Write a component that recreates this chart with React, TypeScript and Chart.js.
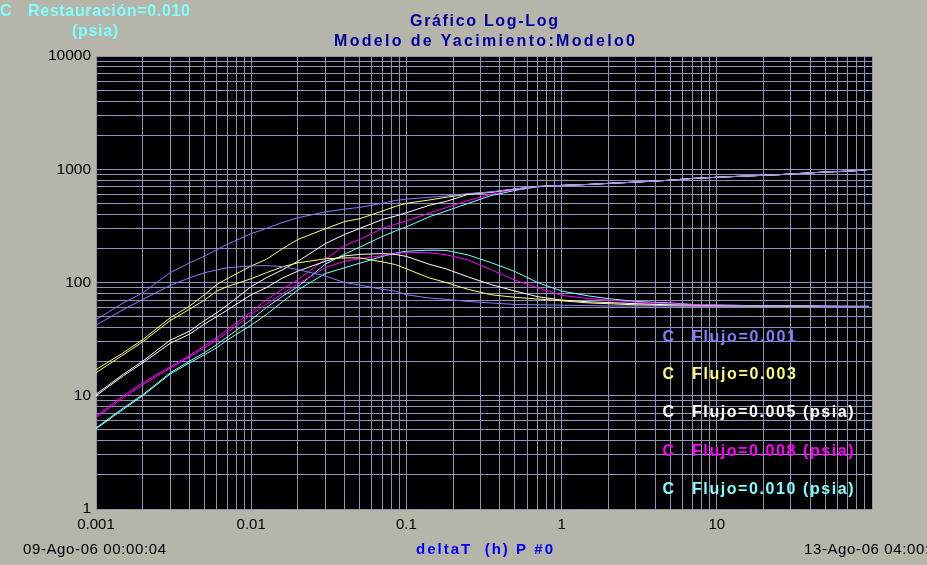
import React, { useEffect, useRef } from 'react';
import { Chart, registerables } from 'chart.js';

Chart.register(...registerables);

// ---- data ----
const deltaT = [0.001, 0.0015, 0.002, 0.003, 0.004, 0.005, 0.006, 0.007, 0.01, 0.0125, 0.016, 0.02, 0.03, 0.04, 0.05, 0.07, 0.085, 0.1, 0.14, 0.18, 0.25, 0.35, 0.5, 0.7, 1, 1.5, 2, 3, 5, 7, 12, 25, 35, 50, 75, 95];

const flujo001DeltaP = [47, 66, 81, 122, 149, 171, 195, 217, 270, 300, 340, 373, 420, 445, 460, 500, 530, 545, 565, 580, 610, 630, 670, 705, 720, 735, 750, 770, 800, 830, 859, 895, 920, 945, 965, 995];
const flujo001Deriv = [42, 57.7, 70.8, 94, 110, 122, 129, 135, 140, 141, 138, 130, 114, 100, 95, 87, 84, 78, 73, 71, 68, 66, 64, 63.5, 63, 62.5, 62, 62, 62, 62, 62, 62, 62, 61.5, 61.5, 61.5];

const flujo003DeltaP = [17, 24, 31.3, 48.7, 61.7, 78, 96, 108, 140, 160, 200, 240, 298, 345, 366, 427, 470, 500, 535, 565, 605, 630, 670, 705, 720, 735, 750, 770, 800, 830, 859, 895, 920, 945, 965, 995];
const flujo003Deriv = [16, 23, 30, 46, 58, 70, 84, 92, 108, 122, 138, 149, 162, 165, 165, 152, 144, 132, 110, 100, 87, 78, 74, 71.5, 69, 66, 65, 63.5, 62.5, 62, 62, 62, 62, 61.5, 61.5, 61.5];

const flujo005DeltaP = [10.3, 15.5, 20.2, 30.9, 37.1, 46, 54, 63, 92, 110, 130, 154, 220, 266, 300, 360, 386, 413, 480, 520, 600, 625, 665, 705, 720, 735, 750, 770, 800, 830, 859, 895, 920, 945, 965, 995];
const flujo005Deriv = [10, 15, 19.5, 29, 35, 43, 50, 57, 78, 90, 110, 126, 154, 172, 177, 180, 177, 170, 145, 132, 112, 96, 84, 75, 70, 67.5, 66.5, 65, 63.5, 63, 62, 62, 62, 61.5, 61.5, 61.5];

const flujo008DeltaP = [6.6, 10, 13, 18, 22.6, 27.5, 32.5, 38, 55, 70, 88, 106, 160, 212, 240, 300, 326, 350, 410, 457, 530, 600, 660, 700, 720, 735, 750, 770, 800, 830, 859, 895, 920, 945, 965, 995];
const flujo008Deriv = [6.4, 9.6, 12.5, 17.5, 22, 26.5, 31, 36, 52, 64, 80, 97, 135, 154, 162, 173, 180, 185, 183, 176, 158, 130, 105, 90, 77, 72, 70, 67, 65, 64, 63, 62, 62, 62, 61.5, 61.5];

const flujo010DeltaP = [5.2, 7.8, 10.2, 15.9, 20.2, 24, 28.3, 33, 47, 60, 76, 92, 145, 178, 205, 255, 285, 310, 380, 427, 500, 585, 650, 700, 720, 735, 750, 770, 800, 830, 859, 895, 920, 945, 965, 995];
const flujo010Deriv = [5.1, 7.6, 10, 15.5, 19.5, 23, 26.5, 31, 42, 52, 68, 86, 120, 135, 148, 170, 182, 189, 193, 192, 175, 150, 125, 100, 84, 76, 72, 68, 66, 64, 63, 62, 62, 62, 61.5, 61.5];

const seriesLabels = ['Flujo=0.001', 'Flujo=0.003', 'Flujo=0.005 (psia)', 'Flujo=0.008 (psia)', 'Flujo=0.010 (psia)'];
const deltaPSeries = [flujo001DeltaP, flujo003DeltaP, flujo005DeltaP, flujo008DeltaP, flujo010DeltaP];
const derivSeries = [flujo001Deriv, flujo003Deriv, flujo005Deriv, flujo008Deriv, flujo010Deriv];

const xTickLabelValues = [0.001, 0.01, 0.1, 1, 10];
const xTickLabels = ['0.001', '0.01', '0.1', '1', '10'];
const yTickLabelValues = [1, 10, 100, 1000, 10000];
const yTickLabels = ['1', '10', '100', '1000', '10000'];

const titleLine1 = 'Gráfico Log-Log';
const titleLine2 = 'Modelo de Yacimiento:Modelo0';
const restLabel = 'Restauración=0.010';
const restUnit = '(psia)';
const curvePrefix = 'C';
const xAxisTitle = 'deltaT  (h) P #0';
const startDate = '09-Ago-06 00:00:04';
const endDate = '13-Ago-06 04:00:04';

// ---- styles ----
const pageBg = '#b5b5a9';
const gridColor = '#9292b8';
const seriesColors = ['#8080ff', '#ffff80', '#ffffff', '#ff00ff', '#80ffff'];
const FONT = '"Liberation Sans", Arial, sans-serif';

function decadeTicks(minExp: number, maxExp: number) {
  const out: number[] = [];
  for (let e = minExp; e < maxExp; e++) {
    for (let m = 1; m <= 9; m++) out.push(Number((m * Math.pow(10, e)).toPrecision(6)));
  }
  out.push(Math.pow(10, maxExp));
  return out;
}

function labelFor(v: number, vals: number[], labels: string[]) {
  for (let i = 0; i < vals.length; i++) {
    if (Math.abs(Math.log10(v) - Math.log10(vals[i])) < 1e-6) return labels[i];
  }
  return '';
}

function fitText(ctx: CanvasRenderingContext2D, text: string, left: number, baseline: number, width: number, font: string, color: string) {
  ctx.save();
  ctx.font = font;
  ctx.fillStyle = color;
  ctx.textAlign = 'left';
  ctx.textBaseline = 'alphabetic';
  (ctx as any).letterSpacing = '0px';
  const natural = ctx.measureText(text).width;
  const n = Array.from(text).length;
  const sp = n > 1 ? (width - natural) / (n - 1) : 0;
  (ctx as any).letterSpacing = sp.toFixed(2) + 'px';
  ctx.fillText(text, left, baseline);
  ctx.restore();
}

const plotBgPlugin = {
  id: 'plotBg',
  beforeDraw(chart: any) {
    const { ctx, chartArea: a } = chart;
    ctx.save();
    ctx.fillStyle = pageBg;
    ctx.fillRect(0, 0, chart.width, chart.height);
    ctx.fillStyle = '#000000';
    ctx.fillRect(a.left, a.top, a.right - a.left, a.bottom - a.top);
    ctx.restore();
  },
};

const textPlugin = {
  id: 'texts',
  afterDraw(chart: any) {
    const ctx: CanvasRenderingContext2D = chart.ctx;
    const bold16 = `bold 16px ${FONT}`;
    // top-left cyan label
    fitText(ctx, curvePrefix, 0, 16, 10, bold16, '#80ffff');
    fitText(ctx, restLabel, 28, 16, 162, bold16, '#80ffff');
    fitText(ctx, restUnit, 72, 36, 46, bold16, '#80ffff');
    // titles
    fitText(ctx, titleLine1, 410, 26, 148, bold16, '#0000a0');
    fitText(ctx, titleLine2, 334, 46, 301, bold16, '#0000a0');
    // legend inside plot
    const rows = [341.5, 379, 417, 455.5, 494];
    const widths = [104, 104, 161.5, 161.5, 161.5];
    seriesLabels.forEach((lab, i) => {
      fitText(ctx, curvePrefix, 662.5, rows[i], 10.5, bold16, seriesColors[i]);
      fitText(ctx, lab, 692, rows[i], widths[i], bold16, seriesColors[i]);
    });
    // bottom texts
    fitText(ctx, startDate, 23, 554, 143, `15px ${FONT}`, '#000000');
    fitText(ctx, xAxisTitle, 416, 554, 137, `bold 15px ${FONT}`, '#0000ff');
    fitText(ctx, endDate, 804, 554, 143, `15px ${FONT}`, '#000000');
  },
};

export default function App() {
  const ref = useRef<HTMLCanvasElement>(null);

  useEffect(() => {
    const canvas = ref.current;
    if (!canvas) return;
    const datasets: any[] = [];
    seriesLabels.forEach((label, i) => {
      datasets.push({
        label: label + ' ΔP',
        data: deltaT.map((t, j) => ({ x: t, y: deltaPSeries[i][j] })),
        borderColor: seriesColors[i],
        backgroundColor: seriesColors[i],
        borderWidth: 1,
        pointRadius: 0,
        tension: 0,
        fill: false,
      });
      datasets.push({
        label: label + ' derivada',
        data: deltaT.map((t, j) => ({ x: t, y: derivSeries[i][j] })),
        borderColor: seriesColors[i],
        backgroundColor: seriesColors[i],
        borderWidth: 1,
        pointRadius: 0,
        tension: 0,
        fill: false,
      });
    });

    const chart = new Chart(canvas, {
      type: 'line',
      data: { datasets },
      options: {
        animation: false,
        responsive: false,
        devicePixelRatio: 1,
        layout: { padding: { top: 56, right: 55, bottom: 0, left: 0 } },
        plugins: {
          legend: { display: false },
          title: { display: false },
          tooltip: { enabled: false },
        },
        scales: {
          x: {
            type: 'logarithmic',
            min: 0.001,
            max: 100,
            afterBuildTicks: (s: any) => {
              s.ticks = decadeTicks(-3, 2).map((v) => ({ value: v }));
            },
            afterFit: (s: any) => {
              s.height = 56;
            },
            grid: { color: gridColor, lineWidth: 1, drawTicks: false },
            border: { color: gridColor, width: 1 },
            ticks: {
              autoSkip: false,
              maxRotation: 0,
              minRotation: 0,
              padding: 7,
              color: '#000000',
              font: { family: FONT, size: 15 },
              callback: (v: any) => labelFor(Number(v), xTickLabelValues, xTickLabels),
            },
          },
          y: {
            type: 'logarithmic',
            min: 1,
            max: 10000,
            afterBuildTicks: (s: any) => {
              s.ticks = decadeTicks(0, 4).map((v) => ({ value: v }));
            },
            afterFit: (s: any) => {
              s.width = 96;
            },
            grid: { color: gridColor, lineWidth: 1, drawTicks: false },
            border: { color: gridColor, width: 1 },
            ticks: {
              autoSkip: false,
              padding: 5,
              color: '#000000',
              font: { family: FONT, size: 15.5 },
              callback: (v: any) => labelFor(Number(v), yTickLabelValues, yTickLabels),
            },
          },
        },
      } as any,
      plugins: [plotBgPlugin, textPlugin],
    });
    return () => chart.destroy();
  }, []);

  return (
    <div style={{ width: 927, height: 565, background: pageBg, position: 'relative', overflow: 'hidden' }}>
      <style>{`html,body{margin:0;padding:0;background:${pageBg};}`}</style>
      <canvas ref={ref} width={927} height={565} style={{ display: 'block', width: 927, height: 565 }} />
    </div>
  );
}
